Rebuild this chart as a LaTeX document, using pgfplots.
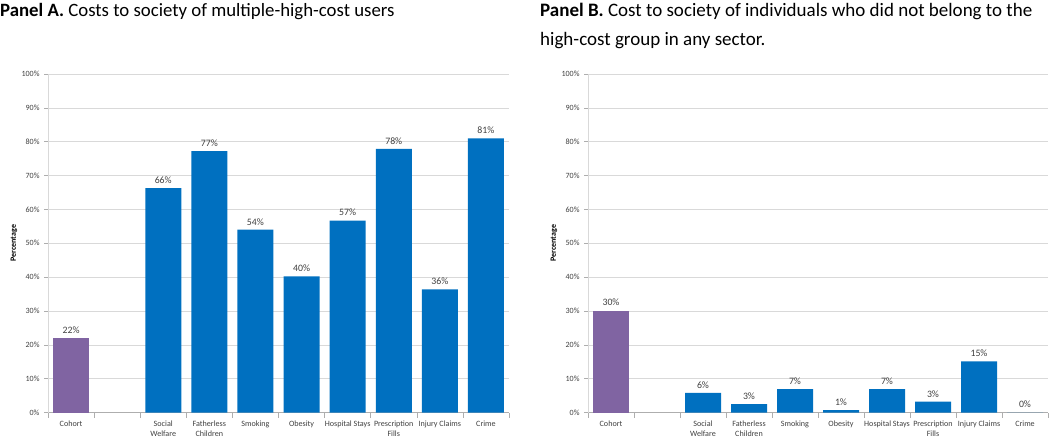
\documentclass[border=0pt]{standalone}
\usepackage{pgfplots}
\pgfplotsset{compat=1.18}
\usepackage{fontspec}
\setmainfont{Carlito}
\definecolor{barblue}{RGB}{0,112,192}
\definecolor{barpurple}{RGB}{128,100,162}
\definecolor{gridgray}{RGB}{217,217,217}
\definecolor{txtgray}{RGB}{64,64,64}

\pgfplotsset{
  panel/.style={
    scale only axis, height=338.5pt,
    ymin=0, ymax=100, ytick={0,10,...,100},
    yticklabel={\pgfmathprintnumber{\tick}\%},
    /pgf/number format/assume math mode=true,
    tick label style={font=\fontsize{8}{9}\selectfont, text=txtgray},
    xmin=-0.5, xmax=9.5,
    xtick={0,2,3,4,5,6,7,8,9},
    xticklabels={Cohort,{Social\\Welfare},{Fatherless\\Children},Smoking,Obesity,{Hospital Stays},{Prescription\\Fills},{Injury Claims},Crime},
    xticklabel style={align=center, font=\fontsize{8.1}{9.6}\selectfont, text=txtgray},
    major x tick style={draw=none},
    minor xtick={-0.5,0.5,...,9.5},
    minor x tick style={gridgray!80!black, line width=0.6pt},
    minor tick length=5pt,
    major tick length=4pt,
    y tick style={gridgray!80!black, line width=0.6pt},
    tick align=outside,
    axis x line*=bottom, axis y line*=left,
    x axis line style={gridgray!80!black, line width=0.7pt, -},
    y axis line style={gridgray, line width=0.7pt, -},
    ymajorgrids, grid style={gridgray, line width=0.6pt},
    ylabel={\textbf{Percentage}},
    every axis y label/.style={at={(axis description cs:0,0.5)}, rotate=90, anchor=center, yshift=34pt,
      font=\fontsize{8}{9}\selectfont, text=black},
    yticklabel style={xshift=-1pt},
    xticklabel style={yshift=-1pt},
    ybar, bar width=36pt, bar shift=0pt,
    point meta=explicit symbolic,
    nodes near coords,
    nodes near coords style={font=\fontsize{9.8}{10}\selectfont, text=txtgray, yshift=1pt},
    clip=false,
  }
}

\begin{document}
\begin{tikzpicture}
\path (0,0) rectangle (1050pt,436pt);
\node[anchor=north west, inner sep=0pt, font=\fontsize{18.8}{20}\selectfont] at (0pt,433pt)
  {\textbf{Panel A.} Costs to society of multiple-high-cost users};
\node[anchor=north west, inner sep=0pt, align=left, font=\fontsize{19}{29}\selectfont] at (540pt,433pt)
  {\textbf{Panel B.} Cost to society of individuals who did not belong to the\\high-cost group in any sector.};

\begin{axis}[panel, width=461pt, at={(48pt,23.5pt)}, anchor=south west]
\addplot[fill=barpurple, draw=none] coordinates {(0,22) [22\%]};
\addplot[fill=barblue, draw=none] coordinates {
(2,66.3) [66\%] (3,77.2) [77\%] (4,54) [54\%] (5,40.2) [40\%]
(6,56.7) [57\%] (7,77.9) [78\%] (8,36.4) [36\%] (9,81) [81\%]};
\end{axis}

\begin{axis}[panel, width=460pt, at={(588pt,23.5pt)}, anchor=south west]
\addplot[fill=barpurple, draw=none] coordinates {(0,30.1) [30\%]};
\addplot[fill=barblue, draw=none] coordinates {
(2,5.8) [6\%] (3,2.5) [3\%] (4,6.9) [7\%] (5,0.7) [1\%]
(6,6.9) [7\%] (7,3.2) [3\%] (8,15.1) [15\%] (9,0) [0\%]};
\end{axis}
\end{tikzpicture}
\end{document}
